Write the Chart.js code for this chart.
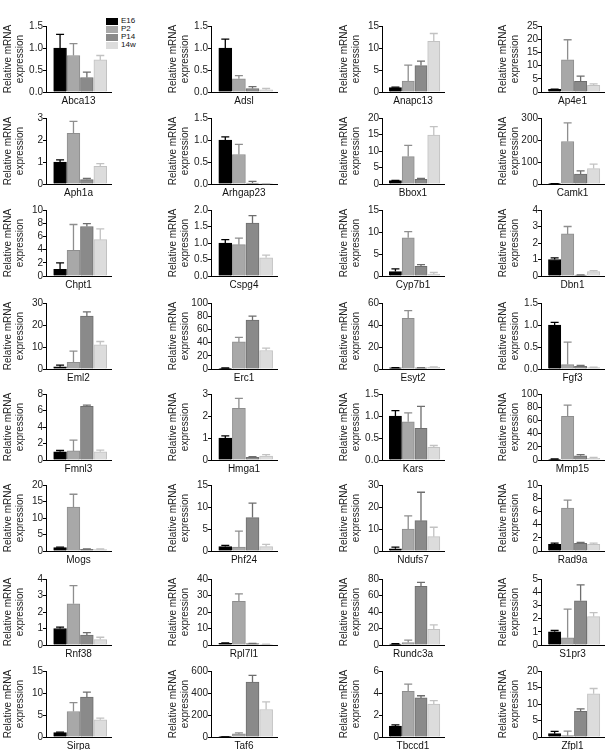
<!DOCTYPE html>
<html lang="en">
<head>
<meta charset="UTF-8">
<title>Relative mRNA expression</title>
<style>
  body { margin: 0; background: #fff; font-family: Arial, "Liberation Sans", sans-serif; }
  #wrap { position: relative; width: 613px; height: 750px; overflow: hidden; }
  #wrap canvas { position: absolute; }
  .legend { position: absolute; left: 106px; top: 17px; font-size: 8px; line-height: 8px; color: #111; }
  .legend div { height: 8px; display: flex; align-items: center; }
  .legend .box { display: inline-block; width: 12px; height: 7px; margin-right: 3px; }
</style>
</head>
<body>
<div id="wrap">
  <div class="legend" id="legend"></div>
</div>
<script src="https://cdn.jsdelivr.net/npm/chart.js"></script>
<script>
// genes in reading order (4 per row)
const genes = ['Abca13', 'Adsl', 'Anapc13', 'Ap4e1',
               'Aph1a', 'Arhgap23', 'Bbox1', 'Camk1',
               'Chpt1', 'Cspg4', 'Cyp7b1', 'Dbn1',
               'Eml2', 'Erc1', 'Esyt2', 'Fgf3',
               'Fmnl3', 'Hmga1', 'Kars', 'Mmp15',
               'Mogs', 'Phf24', 'Ndufs7', 'Rad9a',
               'Rnf38', 'Rpl7l1', 'Rundc3a', 'S1pr3',
               'Sirpa', 'Taf6', 'Tbccd1', 'Zfpl1'];
const stages = ['E16', 'P2', 'P14', '14w'];

// y axis range + tick step for each panel
const yMax  = [1.5, 1.5, 15, 25,  3, 1.5, 20, 300,  10, 2, 15, 4,  30, 100, 60, 1.5,
               8, 3, 1.5, 100,  20, 15, 30, 10,  4, 40, 80, 5,  15, 600, 6, 20];
const yStep = [0.5, 0.5, 5, 5,  1, 0.5, 5, 100,  2, 0.5, 5, 1,  10, 20, 20, 0.5,
               2, 1, 0.5, 20,  5, 5, 10, 2,  1, 10, 20, 1,  5, 200, 2, 5];

// mean values per stage
const e16 = [1, 1, 1, 1,  1, 1, 1, 1,  1, 1, 1, 1,  1, 1, 1, 1,
             1, 1, 1, 1,  1, 1, 1, 1,  1, 1, 1, 1,  1, 1, 1, 1];
const p2  = [0.83, 0.30, 2.5, 12.2,  2.3, 0.67, 8.3, 193,  3.9, 0.95, 8.7, 2.55,  3.0, 41, 46, 0.10,
             1.1, 2.35, 0.87, 66,  13.3, 0.9, 10, 6.5,  2.5, 26.5, 3, 0.55,  5.8, 28, 4.15, 0.4];
const p14 = [0.33, 0.08, 6.0, 4.0,  0.2, 0.02, 1.4, 45,  7.5, 1.6, 2.2, 0.05,  24, 74, 1, 0.06,
             6.5, 0.12, 0.72, 6.5,  0.5, 7.6, 13.8, 1.15,  0.6, 0.8, 71, 3.35,  9.1, 500, 3.55, 7.8];
const w14 = [0.73, 0.05, 11.5, 2.5,  0.8, 0.005, 14.8, 70,  5.5, 0.55, 0.4, 0.27,  11, 28, 1.5, 0.03,
             1.0, 0.18, 0.29, 2.5,  0.4, 1.0, 6.5, 1.0,  0.33, 0.4, 19, 2.15,  3.9, 250, 3.0, 13.1];

// upper error (SEM) per stage
const e16Err = [0.31, 0.2, 0.1, 0.1,  0.1, 0.07, 0.1, 0.5,  1.0, 0.1, 0.6, 0.1,  0.8, 0.5, 0.3, 0.06,
                0.15, 0.1, 0.12, 0.5,  0.2, 0.3, 0.8, 0.2,  0.08, 0.2, 0.5, 0.1,  0.1, 0.5, 0.1, 0.7];
const p2Err  = [0.27, 0.07, 3.6, 7.6,  0.55, 0.23, 3.4, 85,  3.9, 0.2, 1.4, 0.45,  5.1, 7, 7, 0.51,
                1.3, 0.45, 0.2, 17,  3.9, 3.6, 6, 1.2,  1.1, 4.5, 3, 2.17,  2.0, 10, 0.65, 1.4];
const p14Err = [0.12, 0.04, 1.0, 2.0,  0.05, 0.04, 0.3, 15,  0.45, 0.23, 0.4, 0.02,  2, 6, 0.2, 0.02,
                0.15, 0.03, 0.5, 1.5,  0.1, 3.3, 12.9, 0.15,  0.15, 0.2, 5, 1.2,  1.1, 60, 0.2, 0.7];
const w14Err = [0.10, 0.03, 1.8, 0.6,  0.13, 0.005, 2.6, 20,  1.65, 0.08, 0.4, 0.06,  1.5, 3.5, 0.5, 0.01,
                0.2, 0.06, 0.04, 1.5,  0.2, 0.5, 4.3, 0.2,  0.14, 0.1, 5.5, 0.3,  0.4, 70, 0.3, 1.6];

const fills = ['#000000', '#a8a8a8', '#8a8a8a', '#dcdcdc'];
const edges = ['#000000', '#8e8e8e', '#6e6e6e', '#c2c2c2'];
const family = 'Arial, "Liberation Sans", sans-serif';

// panel grid
const colX = [46, 211, 382, 541];
const colW = [65, 66, 62, 63];
const rowY = [26, 118, 210, 303, 394, 485, 579, 671];
const plotH = 66;
const xMin = -0.05, xMax = 4.8;

const errorBars = {
    id: 'errorBars',
    afterDatasetsDraw(chart) {
        const ds = chart.data.datasets[0];
        const meta = chart.getDatasetMeta(0);
        const y = chart.scales.y;
        const ctx = chart.ctx;
        ctx.save();
        ctx.lineWidth = 1.3;
        meta.data.forEach((bar, k) => {
            const top = y.getPixelForValue(ds.data[k].y + ds.err[k]);
            ctx.strokeStyle = edges[k];
            ctx.beginPath();
            ctx.moveTo(bar.x, bar.y);
            ctx.lineTo(bar.x, top);
            ctx.moveTo(bar.x - 4, top);
            ctx.lineTo(bar.x + 4, top);
            ctx.stroke();
        });
        ctx.restore();
    }
};

const wrap = document.getElementById('wrap');

genes.forEach((gene, i) => {
    const col = i % 4, row = Math.floor(i / 4);
    const cv = document.createElement('canvas');
    cv.width = 46 + colW[col] + 4;
    cv.height = 8 + plotH + 15;
    cv.style.left = (colX[col] - 46) + 'px';
    cv.style.top = (rowY[row] - 8) + 'px';
    wrap.appendChild(cv);

    const vals = [e16[i], p2[i], p14[i], w14[i]];
    const errs = [e16Err[i], p2Err[i], p14Err[i], w14Err[i]];
    const step = yStep[i];
    const unit = colW[col] / (xMax - xMin);

    new Chart(cv, {
        type: 'bar',
        data: {
            datasets: [{
                data: vals.map((v, k) => ({ x: k + 1, y: v })),
                err: errs,
                backgroundColor: fills,
                borderColor: edges,
                borderWidth: 1,
                barThickness: unit - 0.6
            }]
        },
        options: {
            responsive: false,
            animation: false,
            events: [],
            layout: { padding: { top: 8, right: 4, left: 0, bottom: 0 } },
            plugins: { legend: { display: false }, tooltip: { enabled: false } },
            scales: {
                x: {
                    type: 'linear',
                    offset: false,
                    min: xMin,
                    max: xMax,
                    ticks: { display: false },
                    grid: { display: false },
                    border: { display: true, color: '#000', width: 1 },
                    title: { display: true, text: gene, color: '#111', font: { size: 10, family }, padding: 0 },
                    afterFit: s => { s.height = 15; }
                },
                y: {
                    min: 0,
                    max: yMax[i],
                    ticks: {
                        stepSize: step,
                        autoSkip: false,
                        padding: 0,
                        color: '#222',
                        font: { size: 10, family },
                        callback: v => step < 1 ? v.toFixed(1) : v
                    },
                    grid: { drawOnChartArea: false, drawTicks: true, tickLength: 3, color: '#000' },
                    border: { display: true, color: '#000', width: 1 },
                    title: {
                        display: true,
                        text: ['Relative mRNA', 'expression'],
                        color: '#222',
                        font: { size: 10, family, lineHeight: 1.15 },
                        padding: { top: 2.75, bottom: 0 }
                    },
                    afterFit: s => { s.width = 46; }
                }
            }
        },
        plugins: [errorBars]
    });
});

// legend in the first panel
const legend = document.getElementById('legend');
stages.forEach((s, k) => {
    const d = document.createElement('div');
    d.innerHTML = '<span class="box" style="background:' + fills[k] + '"></span>' + s;
    legend.appendChild(d);
});
</script>
</body>
</html>
